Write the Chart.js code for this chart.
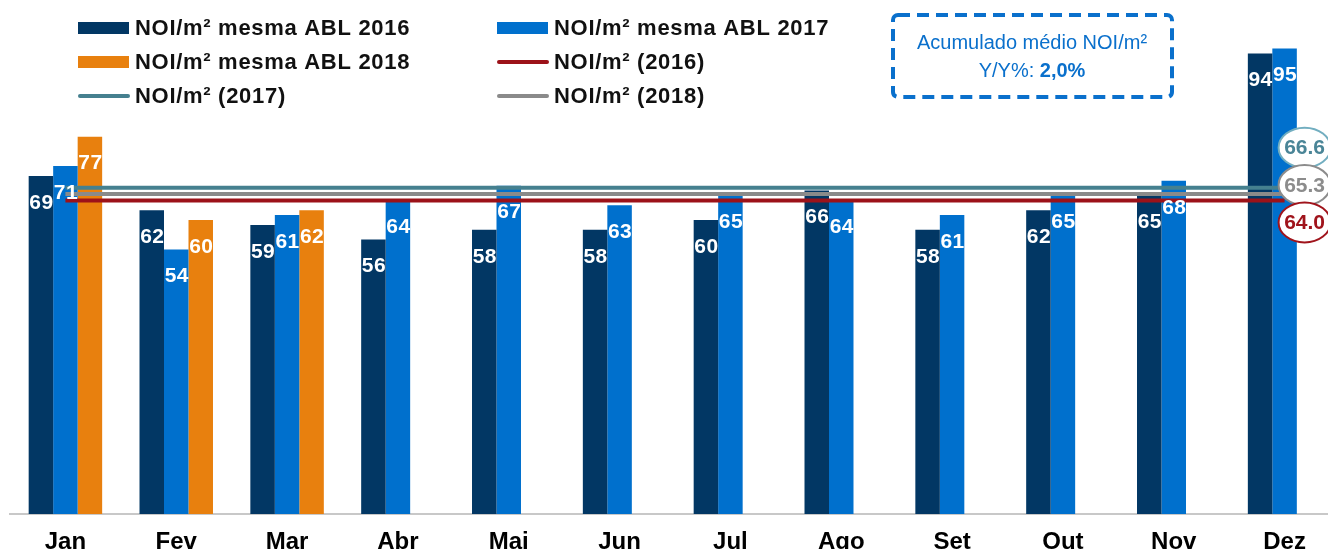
<!DOCTYPE html>
<html lang="pt">
<head>
    <meta charset="UTF-8">
    <title>NOI/m² mesma ABL</title>
    <script src="https://cdn.jsdelivr.net/npm/chart.js"></script>
    <style>
        html, body { margin: 0; padding: 0; background: #fff; overflow: hidden; }
        /* o gráfico original é cortado à direita, por isso o canvas é um pouco mais largo que a janela */
        .chart-wrap { position: relative; width: 1340px; height: 549px; }
    </style>
</head>
<body>
<div class="chart-wrap">
    <canvas id="noiChart"></canvas>
</div>
<script>
// Dados
const months = ["Jan", "Fev", "Mar", "Abr", "Mai", "Jun", "Jul", "Ago", "Set", "Out", "Nov", "Dez"];
const abl2016 = [69, 62, 59, 56, 58, 58, 60, 66, 58, 62, 65, 94];
const abl2017 = [71, 54, 61, 64, 67, 63, 65, 64, 61, 65, 68, 95];
const abl2018 = [77, 60, 62, null, null, null, null, null, null, null, null, null];
const noi2016 = [64.0, 64.0, 64.0, 64.0, 64.0, 64.0, 64.0, 64.0, 64.0, 64.0, 64.0, 64.0];
const noi2017 = [66.6, 66.6, 66.6, 66.6, 66.6, 66.6, 66.6, 66.6, 66.6, 66.6, 66.6, 66.6];
const noi2018 = [65.3, 65.3, 65.3, 65.3, 65.3, 65.3, 65.3, 65.3, 65.3, 65.3, 65.3, 65.3];
const boxTitle = "Acumulado médio NOI/m²";
const boxLabel = "Y/Y%: ";
const boxValue = "2,0%";

const FONT = '"Liberation Sans", Arial, Helvetica, sans-serif';

// legenda em grade de 2 colunas
const gridLegend = {
    id: 'gridLegend',
    afterDraw(chart) {
        const ctx = chart.ctx;
        ctx.save();
        ctx.font = 'bold 22px ' + FONT;
        ctx.letterSpacing = '0.7px';
        ctx.textBaseline = 'middle';
        ctx.textAlign = 'left';
        chart.data.datasets.forEach((ds, i) => {
            const x = (i % 2) ? 497 : 78;
            const y = 28 + Math.floor(i / 2) * 34;
            if (ds.type === 'line') {
                ctx.strokeStyle = ds.borderColor;
                ctx.lineWidth = 4;
                ctx.lineCap = 'round';
                ctx.beginPath();
                ctx.moveTo(x + 2, y);
                ctx.lineTo(x + 50, y);
                ctx.stroke();
            } else {
                ctx.fillStyle = ds.backgroundColor;
                ctx.fillRect(x, y - 6, 51, 12);
            }
            ctx.fillStyle = '#111';
            ctx.fillText(ds.label, x + 57, y + 1);
        });
        ctx.restore();
    }
};

// caixa tracejada com o acumulado
const noteBox = {
    id: 'noteBox',
    afterDraw(chart) {
        const ctx = chart.ctx;
        const blue = '#0a70cc';
        ctx.save();
        ctx.strokeStyle = blue;
        ctx.lineWidth = 4;
        ctx.setLineDash([12, 7]);
        ctx.beginPath();
        ctx.roundRect(893, 15, 279, 82, 5);
        ctx.stroke();
        ctx.setLineDash([]);
        ctx.fillStyle = blue;
        ctx.textBaseline = 'alphabetic';
        ctx.textAlign = 'center';
        ctx.font = '20px ' + FONT;
        ctx.fillText(boxTitle, 1032, 49);
        ctx.textAlign = 'left';
        const w1 = ctx.measureText(boxLabel).width;
        ctx.font = 'bold 20px ' + FONT;
        const w2 = ctx.measureText(boxValue).width;
        const x0 = 1032 - (w1 + w2) / 2;
        ctx.font = '20px ' + FONT;
        ctx.fillText(boxLabel, x0, 77);
        ctx.font = 'bold 20px ' + FONT;
        ctx.fillText(boxValue, x0 + w1, 77);
        ctx.restore();
    }
};

// rótulos brancos dentro das barras e balões das médias
const valueLabels = {
    id: 'valueLabels',
    afterDatasetsDraw(chart) {
        const ctx = chart.ctx;
        ctx.save();
        ctx.font = 'bold 21px ' + FONT;
        ctx.letterSpacing = '0.4px';
        ctx.fillStyle = '#fff';
        ctx.textAlign = 'center';
        ctx.textBaseline = 'middle';
        chart.data.datasets.forEach((ds, i) => {
            if (ds.type === 'line') return;
            chart.getDatasetMeta(i).data.forEach((el, j) => {
                const v = ds.data[j];
                if (v == null) return;
                ctx.fillText(String(v), el.x + 0.5, el.y + 27);
            });
        });

        // balões: 2017 (acima), 2018 (meio), 2016 (abaixo)
        const badges = [
            { idx: 4, dy: -40, text: '#4a8597', edge: '#72aec0' },
            { idx: 5, dy: -9, text: '#8c8c8c', edge: '#8c8c8c' },
            { idx: 3, dy: 22, text: '#a0141c', edge: '#a0141c' }
        ];
        ctx.letterSpacing = '0px';
        badges.forEach(b => {
            const ds = chart.data.datasets[b.idx];
            const pts = chart.getDatasetMeta(b.idx).data;
            const last = pts[pts.length - 1];
            const cx = last.x + 20, cy = last.y + b.dy;
            ctx.beginPath();
            ctx.ellipse(cx, cy, 26, 20, 0, 0, Math.PI * 2);
            ctx.fillStyle = '#fff';
            ctx.fill();
            ctx.lineWidth = 2;
            ctx.strokeStyle = b.edge;
            ctx.stroke();
            ctx.fillStyle = b.text;
            ctx.font = 'bold 21px ' + FONT;
            ctx.fillText(ds.data[ds.data.length - 1].toFixed(1), cx, cy + 1);
        });
        ctx.restore();
    }
};

new Chart(document.getElementById('noiChart'), {
    type: 'bar',
    data: {
        labels: months,
        datasets: [
            { label: 'NOI/m² mesma ABL 2016', data: abl2016, backgroundColor: '#023764', order: 1 },
            { label: 'NOI/m² mesma ABL 2017', data: abl2017, backgroundColor: '#0070cd', order: 1 },
            { label: 'NOI/m² mesma ABL 2018', data: abl2018, backgroundColor: '#e8800e', order: 1 },
            { type: 'line', label: 'NOI/m² (2016)', data: noi2016, borderColor: '#9c1219', borderWidth: 4, pointRadius: 0, order: 0 },
            { type: 'line', label: 'NOI/m² (2017)', data: noi2017, borderColor: '#45808f', borderWidth: 4, pointRadius: 0, order: 0 },
            { type: 'line', label: 'NOI/m² (2018)', data: noi2018, borderColor: '#8a8a8a', borderWidth: 4, pointRadius: 0, order: 0 }
        ]
    },
    options: {
        responsive: true,
        maintainAspectRatio: false,
        animation: false,
        datasets: {
            bar: { categoryPercentage: 0.663, barPercentage: 1.0 }
        },
        layout: { padding: { top: 24, left: 10, right: 0, bottom: 0 } },
        scales: {
            x: {
                grid: { display: false, drawTicks: false },
                border: { display: true, color: '#c8c8c8', width: 2 },
                ticks: {
                    color: '#000',
                    padding: 14,
                    font: { family: FONT, size: 24, weight: 'bold' }
                },
                afterFit(scale) { scale.height = 35; }
            },
            y: { display: false, min: 0, max: 100 }
        },
        plugins: {
            legend: { display: false },
            tooltip: { enabled: false }
        }
    },
    plugins: [valueLabels, gridLegend, noteBox]
});
</script>
</body>
</html>
